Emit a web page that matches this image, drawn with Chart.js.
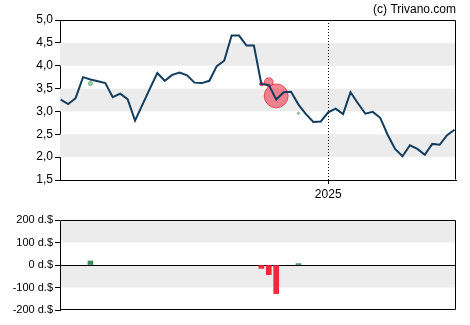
<!DOCTYPE html>
<html>
<head>
<meta charset="utf-8">
<script src="https://cdn.jsdelivr.net/npm/chart.js@4/dist/chart.umd.min.js"></script>
<style>
  html, body { margin: 0; padding: 0; background: #fff; }
  #wrap { position: relative; width: 470px; height: 325px; }
  #wrap canvas { position: absolute; left: 0; }
  #priceChart { top: 0; }
  #volChart { top: 200px; }
</style>
</head>
<body>
<div id="wrap">
  <canvas id="priceChart" width="470" height="200"></canvas>
  <canvas id="volChart" width="470" height="125"></canvas>
</div>
<script>
// weekly closing prices, one per week (index = week number)
const closePrices = [
  3.26, 3.16, 3.29, 3.75, 3.70, 3.66, 3.62, 3.31, 3.39, 3.27,
  2.80, 3.15, 3.50, 3.84, 3.67, 3.80, 3.85, 3.79, 3.63, 3.62,
  3.67, 3.99, 4.11, 4.66, 4.66, 4.44, 4.44, 3.60, 3.58, 3.26,
  3.42, 3.43, 3.15, 2.94, 2.77, 2.78, 2.98, 3.06, 2.94, 3.42,
  3.18, 2.95, 2.99, 2.86, 2.49, 2.18, 2.02, 2.26, 2.18, 2.05,
  2.29, 2.27, 2.48, 2.60
];

// insider trades: week, price paid, volume (thousand $, + buy / - sell)
const tradeWeeks   = [4, 27, 28, 29, 32];
const tradePrices  = [3.61, 3.60, 3.64, 3.34, 2.96];
const tradeVolumes = [18, -15, -43, -127, 6];

// axis labels
const yearMarks    = [{ week: 36, label: '2025' }];
const priceBands   = [[2.0, 2.5], [3.0, 3.5], [4.0, 4.5]];
const volumeBands  = [[100, 200], [-100, 0]];

const BUY_BAR   = '#3a8a5c';
const SELL_BAR  = '#f0283c';
const BUY_DOT   = 'rgba(70,170,100,0.55)';
const SELL_DOT  = 'rgba(238,60,80,0.6)';
const LINE_COL  = '#123d5e';

Chart.defaults.font.family = '"Liberation Sans", Arial, sans-serif';
Chart.defaults.font.size = 12;
Chart.defaults.color = '#000';

// grey horizontal bands, optional zero line, year marker and frame
const decor = {
  id: 'decor',
  beforeDatasetsDraw(chart, args, opts) {
    const { ctx, chartArea: a, scales } = chart;
    const y = scales.y, x = scales.x;
    ctx.save();
    ctx.fillStyle = '#ececec';
    (opts.bands || []).forEach(([lo, hi]) => {
      const t = y.getPixelForValue(hi), b = y.getPixelForValue(lo);
      ctx.fillRect(a.left, t, a.right - a.left, b - t);
    });
    if (opts.zeroLine) {
      const z = Math.round(y.getPixelForValue(0)) + 0.5;
      ctx.strokeStyle = '#000';
      ctx.lineWidth = 1;
      ctx.beginPath();
      ctx.moveTo(a.left, z);
      ctx.lineTo(a.right, z);
      ctx.stroke();
    }
    (opts.years || []).forEach(m => {
      const px = Math.round(x.getPixelForValue(m.week)) + 0.5;
      ctx.strokeStyle = '#000';
      ctx.lineWidth = 1;
      ctx.setLineDash([1, 2]);
      ctx.beginPath();
      ctx.moveTo(px, a.top);
      ctx.lineTo(px, a.bottom);
      ctx.stroke();
      ctx.setLineDash([]);
    });
    ctx.restore();
  },
  afterDraw(chart, args, opts) {
    const { ctx, chartArea: a } = chart;
    ctx.save();
    ctx.strokeStyle = '#000';
    ctx.lineWidth = 1;
    ctx.beginPath();
    const l = Math.round(a.left) + 0.5, r = Math.round(a.right) - 0.5;
    const t = Math.round(a.top) + 0.5, b = Math.round(a.bottom) - 0.5;
    ctx.moveTo(l, t); ctx.lineTo(r, t); ctx.lineTo(r, b);
    if (opts.fullFrame) { ctx.lineTo(l, b); ctx.lineTo(l, t); }
    ctx.stroke();
    if (opts.credit) {
      ctx.fillStyle = '#000';
      ctx.font = '12px "Liberation Sans", Arial, sans-serif';
      ctx.textAlign = 'right';
      ctx.textBaseline = 'alphabetic';
      ctx.fillText(opts.credit, 456, 13);
    }
    ctx.restore();
  }
};

const X_MIN = -0.1, X_MAX = 53.2;

const yAxisBase = {
  position: 'left',
  grid: { drawOnChartArea: false, drawTicks: true, tickLength: 5, color: '#000' },
  border: { display: true, color: '#000', width: 1 },
  afterFit: s => { s.width = 60; }
};

// — price chart —
new Chart(document.getElementById('priceChart'), {
  type: 'line',
  data: {
    datasets: [{
      type: 'line',
      data: closePrices.map((v, i) => ({ x: i, y: v })),
      borderColor: LINE_COL,
      borderWidth: 2,
      pointRadius: 0,
      tension: 0,
      order: 0
    }, {
      type: 'scatter',
      data: tradeWeeks.map((w, i) => ({ x: w, y: tradePrices[i] })),
      pointRadius: tradeVolumes.map(v => Math.abs(v) * 0.09 + 0.5),
      backgroundColor: tradeVolumes.map(v => v > 0 ? BUY_DOT : SELL_DOT),
      borderColor: tradeVolumes.map(v => v > 0 ? 'rgba(70,170,100,0.7)' : 'rgba(230,40,60,0.75)'),
      borderWidth: 1,
      order: 1
    }]
  },
  options: {
    responsive: false,
    animation: false,
    devicePixelRatio: 1,
    layout: { padding: { left: 0, right: 14, top: 20, bottom: 0 } },
    plugins: {
      legend: { display: false },
      tooltip: { enabled: false },
      decor: { bands: priceBands, years: yearMarks, credit: '(c) Trivano.com' }
    },
    scales: {
      x: {
        type: 'linear',
        min: X_MIN, max: X_MAX,
        offset: false,
        afterBuildTicks: s => { s.ticks = yearMarks.map(m => ({ value: m.week })); },
        ticks: {
          autoSkip: false, maxRotation: 0, padding: 3,
          callback: v => (yearMarks.find(m => m.week === v) || {}).label || ''
        },
        grid: { drawOnChartArea: false, drawTicks: true, tickLength: 4, color: '#000' },
        border: { display: true, color: '#000', width: 1 },
        afterFit: s => { s.height = 20; }
      },
      y: {
        ...yAxisBase,
        min: 1.5, max: 5,
        ticks: { stepSize: 0.5, padding: 2, callback: v => v.toFixed(1).replace('.', ',') }
      }
    }
  },
  plugins: [decor]
});

// — insider volume chart —
new Chart(document.getElementById('volChart'), {
  type: 'bar',
  data: {
    datasets: [{
      data: tradeWeeks.map((w, i) => ({ x: w, y: tradeVolumes[i] })),
      backgroundColor: tradeVolumes.map(v => v > 0 ? BUY_BAR : SELL_BAR),
      barThickness: 5
    }]
  },
  options: {
    responsive: false,
    animation: false,
    devicePixelRatio: 1,
    layout: { padding: { left: 0, right: 14, top: 20, bottom: 15 } },
    plugins: {
      legend: { display: false },
      tooltip: { enabled: false },
      decor: { bands: volumeBands, zeroLine: true, fullFrame: true }
    },
    scales: {
      x: { type: 'linear', min: X_MIN, max: X_MAX, offset: false, display: false },
      y: {
        ...yAxisBase,
        min: -200, max: 200,
        ticks: { stepSize: 100, padding: 2, font: { size: 11 }, callback: v => v + ' d.$' }
      }
    }
  },
  plugins: [decor]
});
</script>
</body>
</html>
